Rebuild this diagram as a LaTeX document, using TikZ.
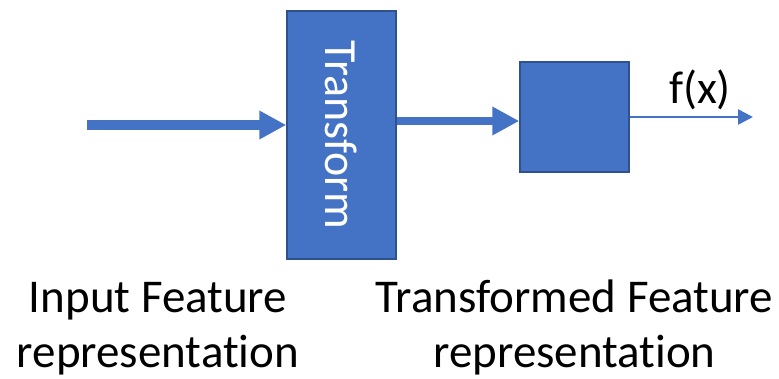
\documentclass[tikz,border=0pt]{standalone}
\usepackage{fontspec}
\setmainfont[Ligatures={NoCommon}]{Carlito}
\usetikzlibrary{arrows.meta, positioning, calc}
\definecolor{officeblue}{HTML}{4472C4}
\definecolor{edgeblue}{HTML}{2F528F}
\tikzset{
    block/.style={draw=edgeblue, line width=1.5pt, fill=officeblue, inner sep=0pt},
    fatarrow/.style={officeblue, line width=#1, -{Triangle[length=27pt, width=27pt]}},
    thinarrow/.style={officeblue, line width=2.5pt, -{Triangle[length=15pt, width=15pt]}},
    caption/.style={align=center, inner sep=0pt, font=\fontsize{47}{55}\selectfont}
}

\begin{document}
\begin{tikzpicture}[x=1pt, y=-1pt]
        \useasboundingbox (0,0) rectangle (779,378);

        % blocks
        \node[block, minimum width=109pt, minimum height=248pt] (tbox) at (341.5,135)
            {\rotatebox{-90}{\color{white}\fontsize{46}{46}\selectfont Transform}};
        \node[block, minimum width=109pt, minimum height=110pt] (sbox) at (574.5,117) {};

        % arrows
        \coordinate (in) at (87,125);
        \coordinate (out) at (753,117);
        \draw[fatarrow=10pt] (in) -- (in -| tbox.west);
        \draw[fatarrow=8pt] (tbox.east |- 0,121) -- (sbox.west |- 0,121);
        \draw[thinarrow] (sbox.east |- out) -- (out)
            node[pos=0.57, anchor=base, yshift=14pt, text=black, font=\fontsize{46}{46}\selectfont] (fx) {f(x)};

        % captions (base = last line)
        \node[caption, anchor=base] (incap) at (158,367) {Input Feature\\representation};
        \node[caption, anchor=base] (outcap) at (sbox.south |- 0,367) {Transformed Feature\\representation};

    \end{tikzpicture}
\end{document}
